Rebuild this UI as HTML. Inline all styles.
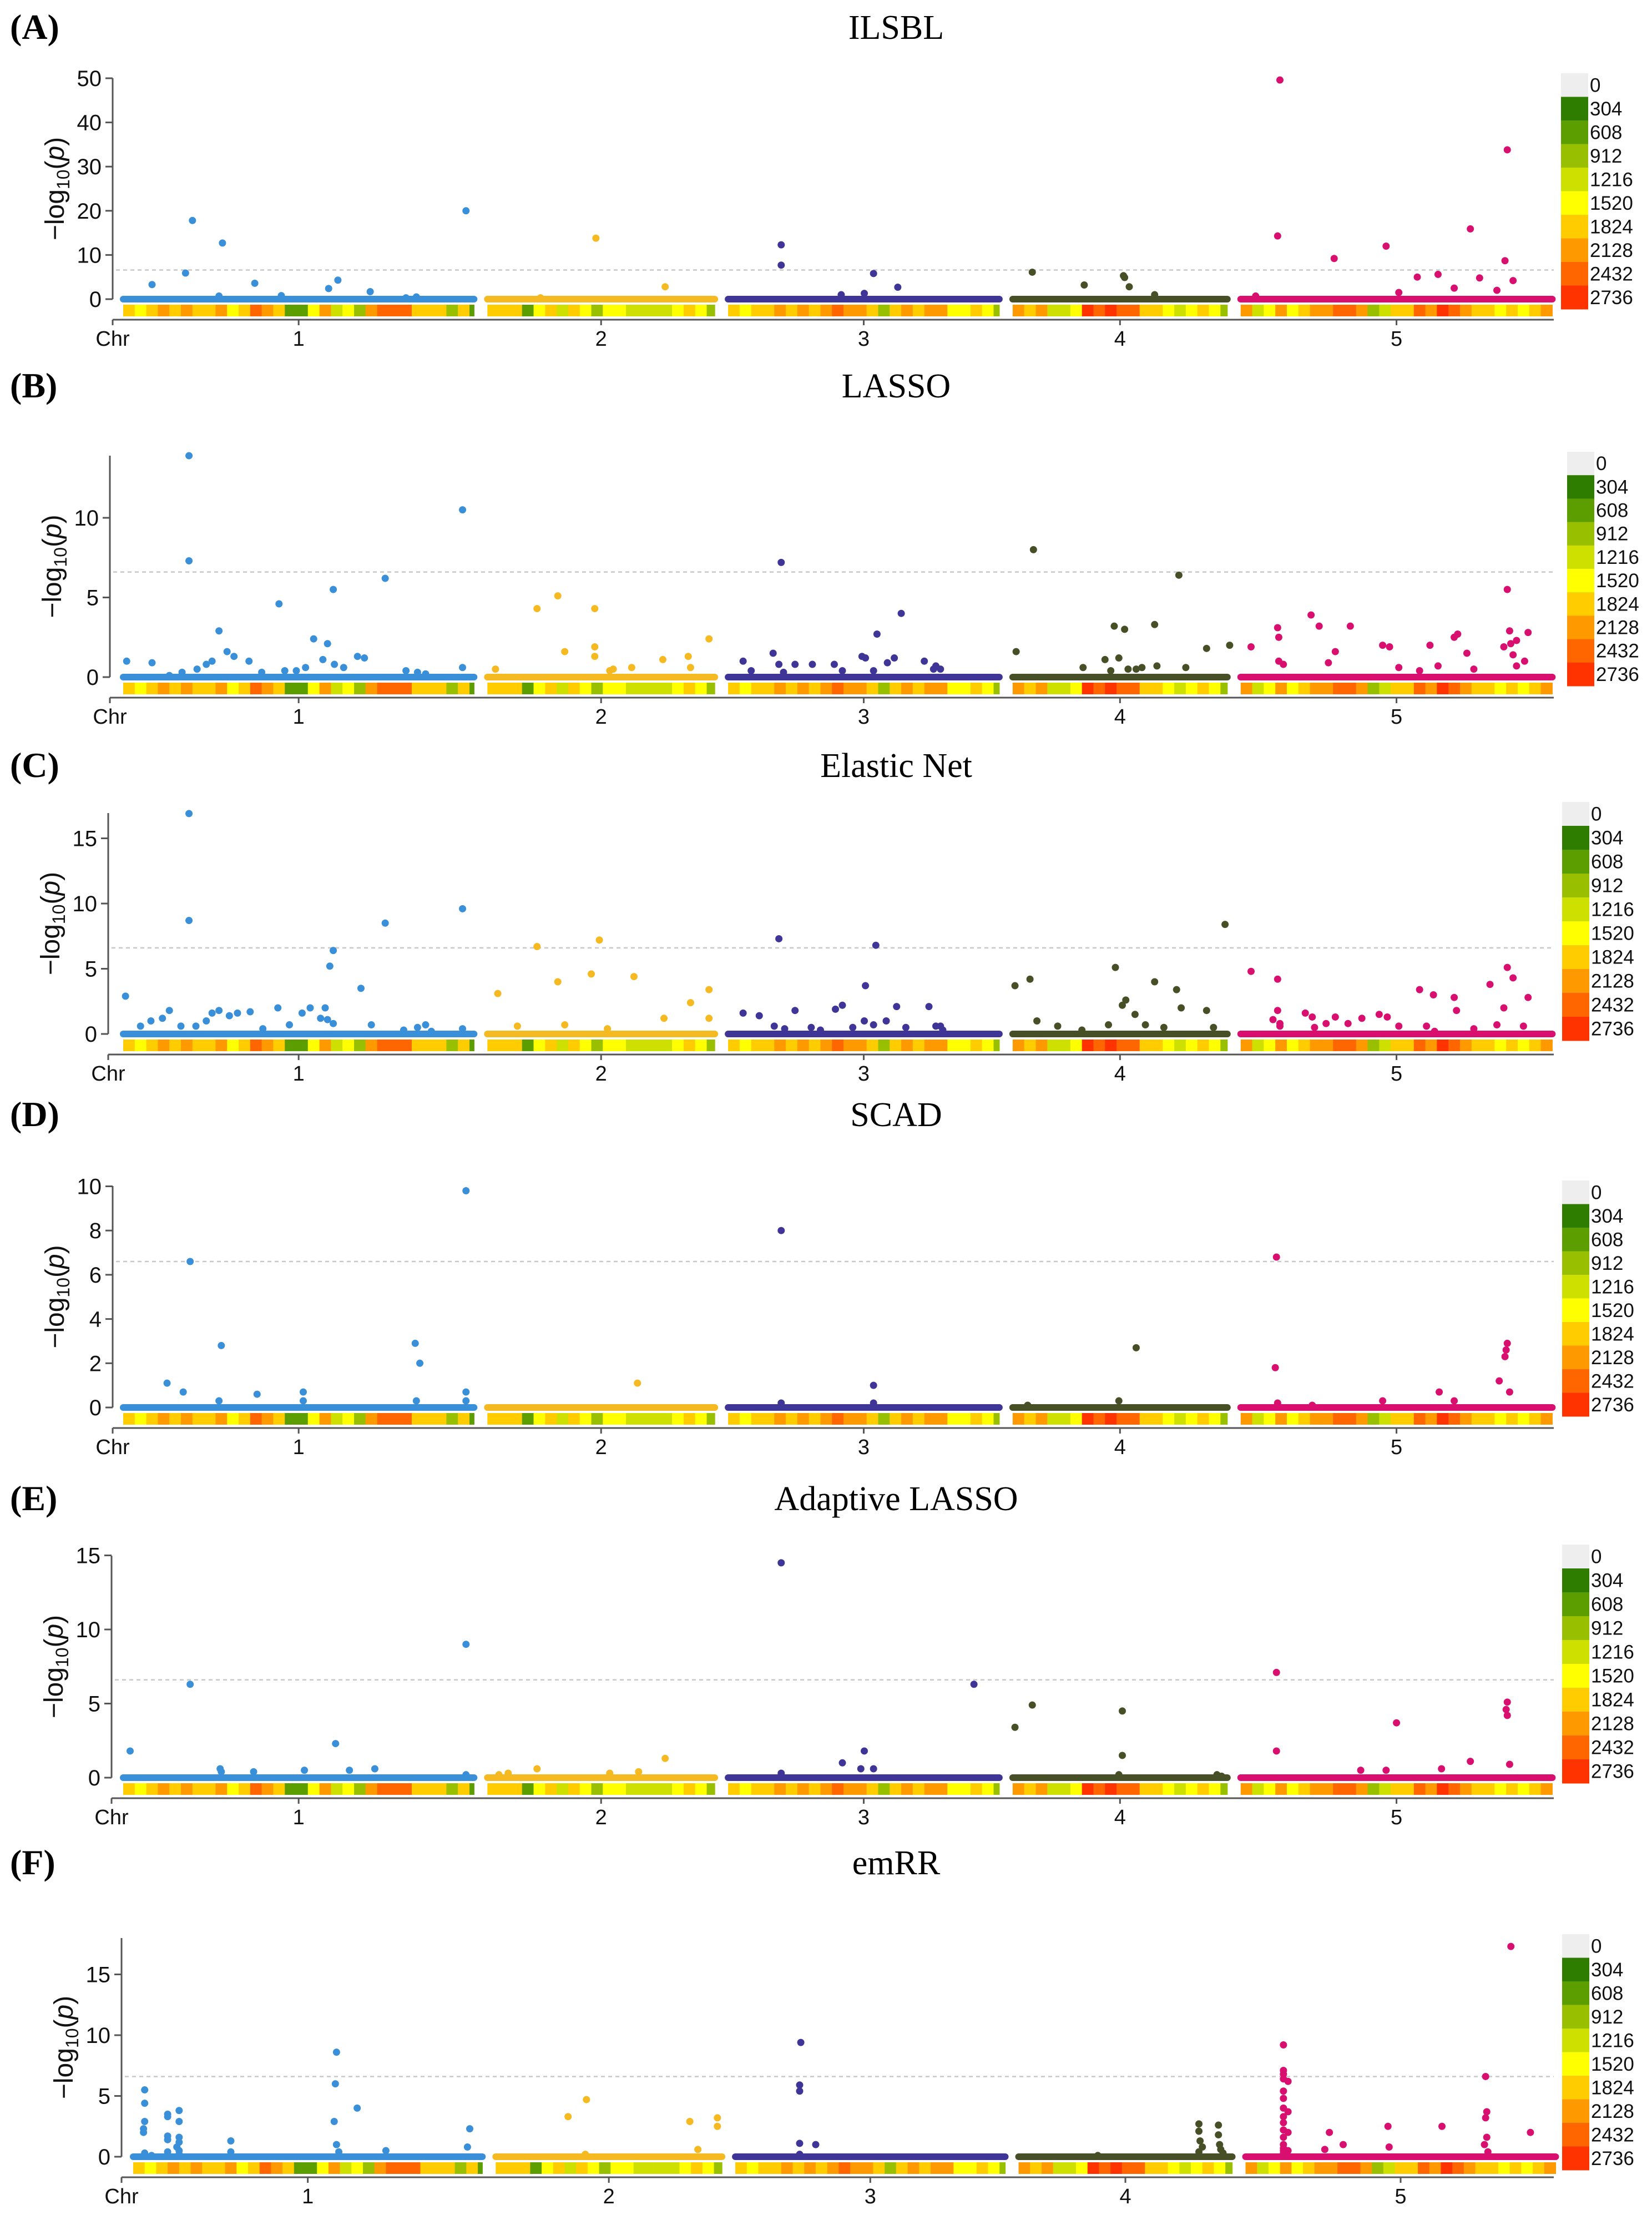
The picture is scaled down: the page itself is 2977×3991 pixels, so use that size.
<!DOCTYPE html>
<html><head><meta charset="utf-8">
<style>
html,body{margin:0;padding:0;background:#fff;}
svg{display:block;}
</style></head>
<body>
<svg id="fig" xmlns="http://www.w3.org/2000/svg" width="2977" height="3991" viewBox="0 0 2977 3991"></svg>
<script>
// ---- data ----
const chromosomes = ["1","2","3","4","5"];
const chrLengths = [30.4, 19.7, 23.5, 18.6, 27.0];
const chrColors = ["#3a8fd9","#f5b921","#3f3596","#474f26","#d90f70"];
const threshold = 6.6;
const legendLabels = ["0","304","608","912","1216","1520","1824","2128","2432","2736"];
const legendColors = ["#eeeeee","#2e7d00","#5c9e00","#99c000","#cde000","#ffff00","#ffcc00","#ff9900","#ff6600","#ff3300"];
const densityChr1 = [6,5,6,7,6,7,6,6,7,5,6,8,7,6,2,2,5,7,4,5,3,7,8,8,8,6,6,6,3,6,2];
const densityChr2 = [6,6,6,2,5,6,4,6,5,3,5,5,4,4,4,4,5,6,5,3];
const densityChr3 = [6,5,6,6,7,6,7,6,7,8,7,7,6,3,6,7,6,7,7,5,5,6,5,3];
const densityChr4 = [7,6,7,4,4,5,9,8,9,8,8,6,6,5,4,5,6,5,3];
const densityChr5 = [7,4,5,7,5,6,7,7,8,8,7,3,4,6,6,8,7,9,8,7,6,6,5,6,5,6,7];
const panelTitles = ["ILSBL","LASSO","Elastic Net","SCAD","Adaptive LASSO","emRR"];
const panelLetters = ["(A)","(B)","(C)","(D)","(E)","(F)"];
const yTicksA = [0,10,20,30,40,50];
const yTicksB = [0,5,10];
const yTicksC = [0,5,10,15];
const yTicksD = [0,2,4,6,8,10];
const yTicksE = [0,5,10,15];
const yTicksF = [0,5,10,15];
// significant points: [chromosome index, position Mb, -log10 p]
const pointsA = [[0,2.5,3.3],[0,5.4,5.9],[0,6.0,17.8],[0,8.6,12.7],[0,8.3,0.7],[0,11.4,3.6],[0,13.7,0.8],[0,17.8,2.4],[0,18.6,4.3],[0,21.4,1.7],[0,24.5,0.3],[0,25.4,0.5],[0,29.7,20],
[1,4.6,0.3],[1,9.4,13.8],[1,15.4,2.8],
[2,4.6,12.3],[2,4.6,7.7],[2,9.8,1.0],[2,11.8,1.3],[2,12.6,5.8],[2,14.7,2.7],
[3,1.7,6.1],[3,6.2,3.2],[3,9.6,5.3],[3,9.7,4.9],[3,10.1,2.8],[3,12.3,1.0],
[4,1.3,0.7],[4,3.2,14.3],[4,3.4,49.6],[4,8.1,9.2],[4,12.6,12],[4,13.7,1.5],[4,15.3,5],[4,17.1,5.6],[4,18.5,2.5],[4,19.9,15.9],[4,20.7,4.8],[4,22.2,2.0],[4,22.9,8.7],[4,23.1,33.8],[4,23.6,4.2]];
const pointsB = [[0,0.3,1.0],[0,2.5,0.9],[0,4.0,0.1],[0,5.1,0.3],[0,5.7,13.9],[0,5.7,7.3],[0,6.4,0.5],[0,7.2,0.8],[0,7.7,1.0],[0,8.3,2.9],[0,9.0,1.6],[0,9.6,1.3],[0,10.9,1.0],[0,12.0,0.3],[0,13.5,4.6],[0,14.0,0.4],[0,15.0,0.4],[0,15.8,0.6],[0,16.5,2.4],[0,17.3,1.1],[0,17.7,2.1],[0,18.2,5.5],[0,18.3,0.8],[0,19.1,0.6],[0,20.3,1.3],[0,20.9,1.2],[0,22.7,6.2],[0,24.5,0.4],[0,25.5,0.3],[0,26.2,0.2],[0,29.4,10.5],[0,29.4,0.6],
[1,0.7,0.5],[1,4.3,4.3],[1,6.1,5.1],[1,6.7,1.6],[1,9.3,4.3],[1,9.3,1.9],[1,9.3,1.3],[1,10.6,0.4],[1,10.9,0.5],[1,12.5,0.6],[1,15.2,1.1],[1,17.4,1.3],[1,17.6,0.6],[1,19.2,2.4],
[2,1.3,1.0],[2,2.0,0.4],[2,3.9,1.5],[2,4.4,0.8],[2,4.6,7.2],[2,4.8,0.3],[2,5.8,0.8],[2,7.3,0.8],[2,9.2,0.8],[2,9.9,0.4],[2,11.6,1.3],[2,11.9,1.2],[2,12.6,0.4],[2,12.9,2.7],[2,13.8,0.9],[2,14.4,1.2],[2,15.0,4.0],[2,17.0,1.0],[2,17.8,0.5],[2,18.0,0.7],[2,18.4,0.5],
[3,0.3,1.6],[3,1.8,8.0],[3,6.1,0.6],[3,8.0,1.1],[3,8.5,0.4],[3,8.8,3.2],[3,9.2,1.2],[3,9.7,3.0],[3,10.0,0.5],[3,10.7,0.5],[3,11.2,0.6],[3,12.3,3.3],[3,12.5,0.7],[3,14.4,6.4],[3,15.0,0.6],[3,16.8,1.8],[3,18.8,2.0],
[4,0.9,1.9],[4,3.2,3.1],[4,3.3,2.5],[4,3.3,1.0],[4,3.7,0.8],[4,6.1,3.9],[4,6.8,3.2],[4,7.6,0.9],[4,8.2,1.6],[4,9.5,3.2],[4,12.3,2.0],[4,12.9,1.9],[4,13.7,0.6],[4,15.5,0.4],[4,16.4,2.0],[4,17.1,0.7],[4,18.5,2.5],[4,18.8,2.7],[4,19.6,1.5],[4,20.2,0.5],[4,22.8,1.9],[4,23.1,5.5],[4,23.3,2.9],[4,23.4,2.1],[4,23.6,1.4],[4,23.9,0.7],[4,23.9,2.3],[4,24.6,1.0],[4,24.9,2.8]];
const pointsC = [[0,0.2,2.9],[0,1.5,0.6],[0,2.4,1.0],[0,3.4,1.2],[0,4.0,1.8],[0,5.0,0.6],[0,5.7,16.9],[0,5.7,8.7],[0,6.3,0.6],[0,7.2,1.0],[0,7.7,1.6],[0,8.3,1.8],[0,9.2,1.4],[0,9.9,1.6],[0,11.0,1.7],[0,12.1,0.4],[0,13.4,2.0],[0,14.4,0.7],[0,15.5,1.6],[0,16.2,2.0],[0,17.1,1.2],[0,17.5,2.0],[0,17.7,1.1],[0,17.9,5.2],[0,18.2,6.4],[0,18.2,0.8],[0,20.6,3.5],[0,21.5,0.7],[0,22.7,8.5],[0,24.3,0.3],[0,25.5,0.5],[0,26.2,0.7],[0,26.7,0.2],[0,29.4,9.6],[0,29.4,0.4],
[1,0.9,3.1],[1,2.6,0.6],[1,4.3,6.7],[1,6.1,4.0],[1,6.7,0.7],[1,9.0,4.6],[1,9.7,7.2],[1,10.4,0.4],[1,12.7,4.4],[1,15.3,1.2],[1,17.6,2.4],[1,19.2,3.4],[1,19.2,1.2],
[2,1.3,1.6],[2,2.7,1.4],[2,4.0,0.6],[2,4.4,7.3],[2,4.9,0.4],[2,5.8,1.8],[2,7.2,0.5],[2,8.0,0.3],[2,9.3,1.9],[2,9.9,2.2],[2,10.8,0.5],[2,11.8,1.0],[2,11.9,3.7],[2,12.6,0.7],[2,12.8,6.8],[2,13.7,1.0],[2,14.6,2.1],[2,15.4,0.5],[2,17.4,2.1],[2,18.0,0.6],[2,18.4,0.6],[2,18.6,0.3],
[3,0.2,3.7],[3,1.5,4.2],[3,2.1,1.0],[3,3.9,0.6],[3,6.0,0.3],[3,8.3,0.7],[3,8.9,5.1],[3,9.5,2.2],[3,9.8,2.6],[3,10.6,1.5],[3,11.5,0.7],[3,12.3,4.0],[3,13.1,0.5],[3,14.2,3.4],[3,14.6,2.0],[3,16.8,1.8],[3,17.4,0.5],[3,18.4,8.4],
[4,0.9,4.8],[4,2.8,1.1],[4,3.2,4.2],[4,3.2,1.8],[4,3.4,0.8],[4,3.4,0.6],[4,5.6,1.6],[4,6.2,1.3],[4,6.4,0.5],[4,7.4,0.8],[4,8.2,1.3],[4,9.3,0.8],[4,10.5,1.2],[4,12.0,1.5],[4,12.7,1.3],[4,13.7,0.6],[4,15.5,3.4],[4,16.1,0.6],[4,16.7,3.0],[4,16.8,0.2],[4,18.5,2.8],[4,18.7,1.8],[4,20.2,0.4],[4,21.6,3.8],[4,22.2,0.7],[4,23.1,5.1],[4,22.8,2.0],[4,23.6,4.3],[4,24.5,0.6],[4,24.9,2.8]];
const pointsD = [[0,3.8,1.1],[0,5.2,0.7],[0,5.8,6.6],[0,8.3,0.3],[0,8.5,2.8],[0,11.6,0.6],[0,15.6,0.7],[0,15.6,0.3],[0,25.3,2.9],[0,25.4,0.3],[0,25.7,2.0],[0,29.7,9.8],[0,29.7,0.7],[0,29.7,0.3],
[1,13.0,1.1],
[2,4.6,8.0],[2,4.6,0.2],[2,12.6,1.0],[2,12.6,0.2],
[3,1.3,0.1],[3,9.2,0.3],[3,10.7,2.7],
[4,3.1,6.8],[4,3.0,1.8],[4,3.2,0.2],[4,6.2,0.1],[4,12.3,0.3],[4,17.2,0.7],[4,18.5,0.3],[4,22.4,1.2],[4,22.9,2.3],[4,23.1,2.9],[4,23.0,2.6],[4,23.3,0.7]];
const pointsE = [[0,0.6,1.8],[0,5.8,6.3],[0,8.4,0.6],[0,8.5,0.4],[0,11.3,0.4],[0,15.7,0.5],[0,18.4,2.3],[0,19.6,0.5],[0,21.8,0.6],[0,29.7,9.0],[0,29.7,0.2],
[1,1.0,0.2],[1,1.8,0.3],[1,4.3,0.6],[1,10.6,0.3],[1,13.1,0.4],[1,15.4,1.3],
[2,4.6,14.5],[2,4.6,0.3],[2,9.9,1.0],[2,11.8,1.8],[2,11.5,0.6],[2,12.6,0.6],[2,21.3,6.3],
[3,0.2,3.4],[3,1.7,4.9],[3,9.5,4.5],[3,9.5,1.5],[3,9.2,0.2],[3,17.7,0.2],[3,18.1,0.1],
[4,3.1,7.1],[4,3.1,1.8],[4,10.4,0.5],[4,12.6,0.5],[4,13.5,3.7],[4,17.4,0.6],[4,19.9,1.1],[4,23.1,5.1],[4,23.0,4.6],[4,23.1,4.2],[4,23.3,0.9]];
const pointsF = [[0,1.0,5.5],[0,1.0,4.4],[0,1.0,2.9],[0,0.9,2.3],[0,0.9,2.0],[0,1.0,0.3],[0,1.6,0.1],[0,3.0,3.5],[0,3.0,3.3],[0,3.0,1.7],[0,3.0,1.4],[0,3.0,0.4],[0,4.0,3.8],[0,4.0,2.9],[0,4.0,1.6],[0,4.0,1.2],[0,3.8,0.8],[0,4.0,0.5],[0,4.0,0.2],[0,8.5,1.3],[0,8.5,0.4],
[0,17.7,8.6],[0,17.6,6.0],[0,17.5,2.9],[0,17.7,1.0],[0,17.9,0.4],[0,19.5,4.0],[0,22.0,0.5],[0,29.3,2.3],[0,29.1,0.8],
[1,6.3,3.3],[1,7.9,4.7],[1,7.8,0.2],[1,16.9,2.9],[1,17.6,0.6],[1,19.3,3.2],[1,19.3,2.5],
[2,5.7,9.4],[2,5.6,5.9],[2,5.6,5.4],[2,5.6,1.1],[2,7.0,1.0],[2,5.6,0.2],
[3,6.9,0.1],[3,15.7,2.7],[3,15.7,2.1],[3,15.8,1.3],[3,16.0,0.8],[3,15.7,0.4],[3,17.4,2.6],[3,17.4,1.8],[3,17.5,1.0],[3,17.6,0.6],[3,17.8,0.3],
[4,3.3,9.2],[4,3.3,7.1],[4,3.3,6.8],[4,3.3,6.4],[4,3.3,5.4],[4,3.3,4.8],[4,3.3,4.0],[4,3.3,3.3],[4,3.3,2.8],[4,3.3,2.2],[4,3.3,1.6],[4,3.3,1.0],[4,3.3,0.7],[4,3.3,0.5],[4,3.3,0.3],[4,3.7,6.2],[4,3.7,3.7],[4,3.7,2.0],[4,3.7,0.5],[4,6.9,0.6],[4,7.3,2.0],[4,8.5,1.0],[4,12.4,2.5],[4,12.5,0.8],[4,17.1,2.5],[4,20.9,6.6],[4,21.0,3.7],[4,20.9,3.2],[4,21.0,1.6],[4,20.8,1.0],[4,21.1,0.4],[4,23.1,17.3],[4,24.8,2.0]];

const densities = [densityChr1,densityChr2,densityChr3,densityChr4,densityChr5];
const allPoints = [pointsA,pointsB,pointsC,pointsD,pointsE,pointsF];
const allTicks = [yTicksA,yTicksB,yTicksC,yTicksD,yTicksE,yTicksF];

// ---- layout (pixels, not data) ----
const panels = [
 {y0:539, ppu:7.96, top:141, ax:203, x0:222, k:20.8, titleY:70, lt:132, lb:557, lx:2813},
 {y0:1220,ppu:28.7, top:821, ax:198, x0:222, k:20.8, titleY:716, lt:814, lb:1236, lx:2824},
 {y0:1863,ppu:23.5, top:1465,ax:195, x0:222, k:20.8, titleY:1400, lt:1445, lb:1875, lx:2815},
 {y0:2536,ppu:39.85,top:2137,ax:203, x0:222, k:20.8, titleY:2029, lt:2127, lb:2552, lx:2815},
 {y0:3203,ppu:26.7, top:2803,ax:201, x0:222, k:20.8, titleY:2721, lt:2783, lb:3213, lx:2815},
 {y0:3886,ppu:21.9, top:3492,ax:219, x0:240, k:20.7, titleY:3377, lt:3485, lb:3910, lx:2815}
];
const GAP = 24;
const svg = document.getElementById('fig');
const NS = 'http://www.w3.org/2000/svg';
function mk(tag, attrs, parent){ const e=document.createElementNS(NS,tag); for(const a in attrs) e.setAttribute(a,attrs[a]); (parent||svg).appendChild(e); return e; }
function chrStart(p, c){ let s=p.x0; for(let i=0;i<c;i++) s+=chrLengths[i]*p.k+GAP; return s; }
function xScale(p, c, pos){ return chrStart(p,c)+pos*p.k; }
function yScale(p, v){ return p.y0 - v*p.ppu; }

panels.forEach((p, pi) => {
  const g = mk('g', {});
  
  
  // letter & title
  const lt = mk('text', {x:18, y:p.titleY, 'font-family':'Liberation Serif, serif','font-size':64,'font-weight':'bold',fill:'#000'}, g);
  lt.textContent = panelLetters[pi];
  
  
  const tt = mk('text', {x:1615, y:p.titleY, 'text-anchor':'middle','font-family':'Liberation Serif, serif','font-size':62,fill:'#000'}, g);
  tt.textContent = panelTitles[pi];
  
  
  // threshold
  const th = mk('line', {x1:p.ax+6, x2:2800, y1:yScale(p,threshold), y2:yScale(p,threshold), stroke:'#c8c8c8','stroke-width':2.5,'stroke-dasharray':'7,6'}, g);
  
  
  // y axis
  const ya = mk('line', {x1:p.ax, x2:p.ax, y1:p.top, y2:p.y0, stroke:'#555','stroke-width':3}, g);
  
  
  allTicks[pi].forEach(t => {
    const y = yScale(p,t);
    mk('line', {x1:p.ax-13, x2:p.ax, y1:y, y2:y, stroke:'#555','stroke-width':3}, g);
    const tl = mk('text', {x:p.ax-20, y:y+14, 'text-anchor':'end','font-family':'Liberation Sans, sans-serif','font-size':40,fill:'#111'}, g);
    tl.textContent = t;
    
    
  });
  const yc = (p.top + p.y0)/2;
  const yt = mk('text', {x:0, y:0, transform:`translate(${p.ax-88},${yc}) rotate(-90)`, 'text-anchor':'middle','font-family':'Liberation Sans, sans-serif','font-size':48,fill:'#111'}, g);
  yt.innerHTML = '−log<tspan font-size="32" dy="10">10</tspan><tspan dy="-10">(</tspan><tspan font-style="italic">p</tspan>)';
  
  
  // density strips
  chromosomes.forEach((c, ci) => {
    densities[ci].forEach((lvl, bi) => {
      const xa = xScale(p, ci, bi);
      const xb = xScale(p, ci, Math.min(bi+1, chrLengths[ci]));
      const r = mk('rect', {x:xa, y:p.y0+10, width:Math.max(0,xb-xa)+0.6, height:21, fill:legendColors[lvl]}, g);
      
      
    });
  });
  // chromosome baselines (many non-significant markers)
  chromosomes.forEach((c, ci) => {
    const bl = mk('line', {x1:xScale(p,ci,0), x2:xScale(p,ci,chrLengths[ci]), y1:p.y0, y2:p.y0, stroke:chrColors[ci],'stroke-width':12,'stroke-linecap':'round'}, g);
    
    
  });
  // points
  allPoints[pi].forEach(pt => {
    const d = mk('circle', {cx:xScale(p,pt[0],pt[1]), cy:yScale(p,pt[2]), r:6.5, fill:chrColors[pt[0]]}, g);
    
    
  });
  // x axis
  const xa = mk('line', {x1:p.ax, x2:2800, y1:p.y0+37, y2:p.y0+37, stroke:'#555','stroke-width':3}, g);
  
  
  mk('line', {x1:p.ax, x2:p.ax, y1:p.y0+37, y2:p.y0+47, stroke:'#555','stroke-width':3}, g);
  const cl = mk('text', {x:p.ax, y:p.y0+84, 'text-anchor':'middle','font-family':'Liberation Sans, sans-serif','font-size':38,fill:'#111'}, g);
  cl.textContent = 'Chr';
  
  
  chromosomes.forEach((c, ci) => {
    const cx = xScale(p, ci, chrLengths[ci]/2);
    mk('line', {x1:cx, x2:cx, y1:p.y0+37, y2:p.y0+47, stroke:'#555','stroke-width':3}, g);
    const tl = mk('text', {x:cx, y:p.y0+84, 'text-anchor':'middle','font-family':'Liberation Sans, sans-serif','font-size':38,fill:'#111'}, g);
    tl.textContent = c;
    
    
  });
  // legend
  const lg = mk('g', {}, g);
  
  
  const h = (p.lb - p.lt)/legendLabels.length;
  legendLabels.forEach((lab, li) => {
    const ry = p.lt + li*h;
    const r = mk('rect', {x:p.lx, y:ry, width:49, height:h+0.5, fill:legendColors[li]}, lg);
    
    
    const t = mk('text', {x:p.lx+52, y:ry+h*0.5+12, 'font-family':'Liberation Sans, sans-serif','font-size':35,fill:'#111'}, lg);
    t.textContent = lab;
    
    
  });
});
</script>
</body></html>
